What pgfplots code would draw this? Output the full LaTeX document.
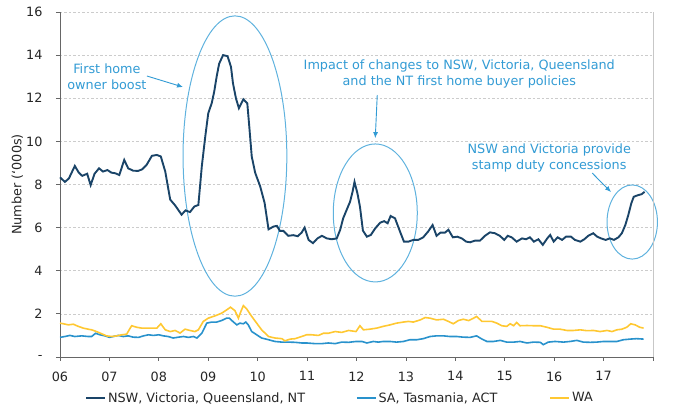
\documentclass[border=0pt]{standalone}
\usepackage{pgfplots}
\pgfplotsset{compat=1.18}
\usepackage{fontspec}
\setmainfont{DejaVu Sans}
\usetikzlibrary{arrows.meta}
\definecolor{nsw}{RGB}{26,68,104}
\definecolor{sa}{RGB}{41,146,204}
\definecolor{wa}{RGB}{255,200,50}
\definecolor{annot}{RGB}{50,155,212}
\definecolor{ell}{RGB}{95,178,222}
\begin{document}
\begin{tikzpicture}
\begin{axis}[
  at={(0pt,0pt)}, anchor=south west,
  scale only axis, width=593pt, height=345pt,
  xmin=6, xmax=18, ymin=0, ymax=16,
  xtick={6,7,8,9,10,11,12,13,14,15,16,17,18},
  xticklabels={06,07,08,09,10,11,12,13,14,15,16,17,{}},
  ytick={0,2,4,6,8,10,12,14,16},
  yticklabels={{-},2,4,6,8,10,12,14,16},
  axis x line=bottom, axis y line=left,
  axis line style={-, draw=black!60, line width=0.9pt},
  tick align=outside, major tick length=4pt,
  tick style={draw=black!60, line width=0.8pt},
  ymajorgrids, major grid style={draw=black!20, dash pattern=on 2.5pt off 2pt, line width=0.7pt},
  ticklabel style={font=\fontsize{12.8}{15}\selectfont, text=black!85},
  xticklabel style={yshift=-7pt},
  yticklabel style={xshift=-10pt},
  ylabel={Number (`000s)},
  ylabel style={at={(axis description cs:-0.072,0.5)}, anchor=center, font=\fontsize{12.8}{15}\selectfont, text=black!85},
  legend columns=3,
  legend cell align=left,
  legend image code/.code={\draw[#1] (0pt,0pt) -- (19pt,0pt);},
  legend style={draw=none, fill=none, at={(axis description cs:0.042,-0.119)}, anchor=west,
    inner xsep=0pt, font=\fontsize{12.8}{15}\selectfont, text=black!85, column sep=0pt},
  clip=false,
]
\draw[ell, line width=1pt] (axis cs:9.54,9.32) ellipse [x radius=1.05, y radius=6.5];
\draw[ell, line width=1pt] (axis cs:12.38,6.68) ellipse [x radius=0.85, y radius=3.2];
\draw[ell, line width=1pt] (axis cs:17.58,6.26) ellipse [x radius=0.51, y radius=1.72];
\draw[black!22, line width=0.8pt] (rel axis cs:1,0) -- (rel axis cs:1,1);

\addplot[nsw, line width=1.9pt] coordinates {
(6.00,8.33) (6.10,8.12) (6.18,8.28) (6.30,8.86) (6.38,8.55) (6.45,8.40) (6.55,8.50) (6.62,7.97)
(6.70,8.50) (6.79,8.75) (6.87,8.60) (6.96,8.67) (7.04,8.55) (7.12,8.52) (7.20,8.44) (7.30,9.14)
(7.38,8.75) (7.48,8.64) (7.58,8.63) (7.66,8.70) (7.75,8.90) (7.86,9.33) (7.96,9.37) (8.04,9.30)
(8.13,8.60) (8.23,7.30) (8.33,7.03) (8.40,6.80) (8.46,6.60) (8.54,6.80) (8.63,6.72) (8.72,6.98)
(8.80,7.05) (8.87,8.85) (8.94,10.23) (9.00,11.30) (9.07,11.77) (9.12,12.30) (9.17,13.00) (9.22,13.60)
(9.30,14.00) (9.39,13.95) (9.46,13.46) (9.50,12.70) (9.56,12.00) (9.62,11.54) (9.71,11.95) (9.79,11.77)
(9.83,10.70) (9.88,9.30) (9.95,8.54) (10.05,7.92) (10.14,7.15) (10.22,5.92) (10.32,6.05) (10.39,6.08)
(10.45,5.85) (10.52,5.85) (10.62,5.62) (10.72,5.65) (10.81,5.60) (10.89,5.77) (10.95,6.00) (11.03,5.43)
(11.12,5.28) (11.21,5.50) (11.30,5.62) (11.40,5.50) (11.50,5.46) (11.60,5.50) (11.67,5.90) (11.73,6.43)
(11.80,6.82) (11.87,7.20) (11.92,7.66) (11.96,8.12) (12.02,7.58) (12.07,6.97) (12.13,5.86) (12.21,5.58)
(12.29,5.66) (12.38,5.97) (12.48,6.23) (12.56,6.30) (12.63,6.20) (12.69,6.54) (12.78,6.43) (12.88,5.82)
(12.96,5.35) (13.05,5.35) (13.15,5.43) (13.25,5.43) (13.35,5.55) (13.45,5.82) (13.54,6.12) (13.62,5.62)
(13.70,5.77) (13.79,5.77) (13.86,5.90) (13.95,5.55) (14.04,5.58) (14.13,5.50) (14.22,5.35) (14.30,5.32)
(14.40,5.40) (14.50,5.40) (14.60,5.62) (14.70,5.78) (14.80,5.74) (14.90,5.62) (14.99,5.43) (15.06,5.62)
(15.14,5.55) (15.24,5.35) (15.35,5.50) (15.43,5.46) (15.51,5.55) (15.59,5.35) (15.68,5.46) (15.77,5.20)
(15.86,5.50) (15.92,5.66) (15.99,5.35) (16.07,5.55) (16.16,5.43) (16.24,5.58) (16.34,5.58) (16.42,5.43)
(16.53,5.35) (16.61,5.46) (16.69,5.62) (16.79,5.74) (16.87,5.58) (16.95,5.50) (17.04,5.43) (17.13,5.50)
(17.21,5.43) (17.30,5.55) (17.37,5.74) (17.44,6.12) (17.50,6.58) (17.56,7.12) (17.61,7.43) (17.69,7.50)
(17.77,7.55) (17.83,7.66)
};
\addlegendentry{\makebox[246pt][l]{NSW, Victoria, Queensland, NT}}

\addplot[sa, line width=1.6pt] coordinates {
(6.00,0.91) (6.10,0.95) (6.20,1.00) (6.30,0.95) (6.44,0.98) (6.57,0.95) (6.64,0.95) (6.72,1.10)
(6.81,1.03) (6.91,0.98) (7.00,0.91) (7.08,0.95) (7.18,1.00) (7.28,0.95) (7.38,0.98) (7.48,0.92)
(7.59,0.91) (7.69,0.98) (7.79,1.03) (7.89,1.00) (8.00,1.03) (8.09,0.98) (8.19,0.95) (8.29,0.88)
(8.40,0.92) (8.50,0.95) (8.60,0.91) (8.70,0.95) (8.77,0.88) (8.87,1.10) (8.97,1.57) (9.07,1.62)
(9.17,1.62) (9.27,1.69) (9.37,1.80) (9.43,1.80) (9.51,1.62) (9.58,1.49) (9.64,1.57) (9.71,1.54)
(9.76,1.62) (9.81,1.49) (9.88,1.18) (9.98,1.03) (10.08,0.88) (10.22,0.80) (10.35,0.72) (10.49,0.69)
(10.62,0.69) (10.76,0.68) (10.89,0.65) (10.99,0.65) (11.16,0.62) (11.30,0.62) (11.43,0.65) (11.57,0.62)
(11.70,0.69) (11.84,0.68) (11.99,0.72) (12.11,0.72) (12.21,0.65) (12.34,0.72) (12.44,0.69) (12.54,0.72)
(12.68,0.72) (12.81,0.69) (12.95,0.72) (13.08,0.80) (13.22,0.80) (13.35,0.85) (13.49,0.95) (13.62,0.98)
(13.76,0.98) (13.89,0.95) (14.03,0.95) (14.16,0.92) (14.30,0.91) (14.43,0.98) (14.54,0.83) (14.64,0.72)
(14.77,0.72) (14.91,0.77) (15.04,0.69) (15.18,0.69) (15.31,0.72) (15.45,0.65) (15.58,0.69) (15.72,0.68)
(15.78,0.57) (15.88,0.69) (16.02,0.72) (16.19,0.69) (16.32,0.72) (16.46,0.77) (16.59,0.69) (16.73,0.68)
(16.86,0.69) (17.00,0.72) (17.13,0.72) (17.27,0.72) (17.40,0.80) (17.54,0.83) (17.67,0.85) (17.81,0.83)
};
\addlegendentry{\makebox[169pt][l]{SA, Tasmania, ACT}}

\addplot[wa, line width=1.6pt] coordinates {
(6.00,1.57) (6.07,1.54) (6.17,1.49) (6.27,1.52) (6.37,1.42) (6.47,1.34) (6.57,1.29) (6.64,1.26)
(6.74,1.18) (6.84,1.08) (6.94,0.98) (7.05,0.95) (7.15,0.98) (7.25,1.03) (7.35,1.06) (7.40,1.26)
(7.45,1.45) (7.55,1.38) (7.65,1.34) (7.75,1.34) (7.86,1.34) (7.96,1.34) (8.04,1.54) (8.13,1.26)
(8.23,1.18) (8.33,1.23) (8.43,1.11) (8.53,1.29) (8.63,1.23) (8.73,1.18) (8.80,1.26) (8.90,1.65)
(9.00,1.80) (9.14,1.91) (9.27,2.03) (9.37,2.18) (9.45,2.31) (9.54,2.15) (9.61,1.80) (9.66,2.11)
(9.71,2.38) (9.78,2.22) (9.88,1.88) (9.98,1.57) (10.08,1.26) (10.22,0.95) (10.35,0.88) (10.49,0.85)
(10.55,0.75) (10.66,0.83) (10.76,0.85) (10.89,0.95) (10.99,1.03) (11.09,1.03) (11.23,1.00) (11.33,1.10)
(11.43,1.10) (11.57,1.18) (11.70,1.14) (11.84,1.23) (11.99,1.18) (12.07,1.45) (12.14,1.26) (12.27,1.29)
(12.41,1.34) (12.54,1.42) (12.68,1.49) (12.81,1.57) (12.95,1.62) (13.05,1.65) (13.15,1.62) (13.29,1.72)
(13.39,1.83) (13.49,1.80) (13.62,1.72) (13.76,1.75) (13.86,1.65) (13.96,1.54) (14.06,1.69) (14.16,1.75)
(14.27,1.69) (14.37,1.80) (14.43,1.88) (14.54,1.65) (14.64,1.65) (14.74,1.65) (14.84,1.57) (14.94,1.45)
(15.04,1.42) (15.11,1.54) (15.18,1.45) (15.24,1.60) (15.31,1.45) (15.45,1.46) (15.58,1.45) (15.72,1.45)
(15.85,1.38) (15.99,1.29) (16.12,1.29) (16.26,1.23) (16.39,1.23) (16.53,1.26) (16.66,1.22) (16.80,1.23)
(16.93,1.18) (17.07,1.23) (17.17,1.18) (17.27,1.26) (17.37,1.29) (17.47,1.38) (17.55,1.54) (17.64,1.49)
(17.73,1.38) (17.81,1.34)
};
\addlegendentry{WA}

\node[annot, align=center, font=\fontsize{12.8}{16}\selectfont] at (axis cs:6.95,12.99) {First home\\owner boost};
\draw[annot, line width=0.9pt, -{Latex[length=6pt,width=5pt]}] (axis cs:7.76,13.03) -- (axis cs:8.49,12.52);
\node[annot, align=center, font=\fontsize{12.8}{16}\selectfont] at (axis cs:14.08,13.13) {Impact of changes to NSW, Victoria, Queensland\\and the NT first home buyer policies};
\draw[annot, line width=0.9pt, -{Latex[length=6pt,width=5pt]}] (axis cs:12.42,12.15) -- (axis cs:12.38,10.15);
\node[annot, align=center, font=\fontsize{12.8}{16}\selectfont] at (axis cs:15.90,9.23) {NSW and Victoria provide\\stamp duty concessions};
\draw[annot, line width=0.9pt, -{Latex[length=6pt,width=5pt]}] (axis cs:16.77,8.53) -- (axis cs:17.15,7.65);
\end{axis}
\pgfresetboundingbox
\path[use as bounding box] (-60pt,-54pt) rectangle (621pt,357pt);
\end{tikzpicture}
\end{document}
